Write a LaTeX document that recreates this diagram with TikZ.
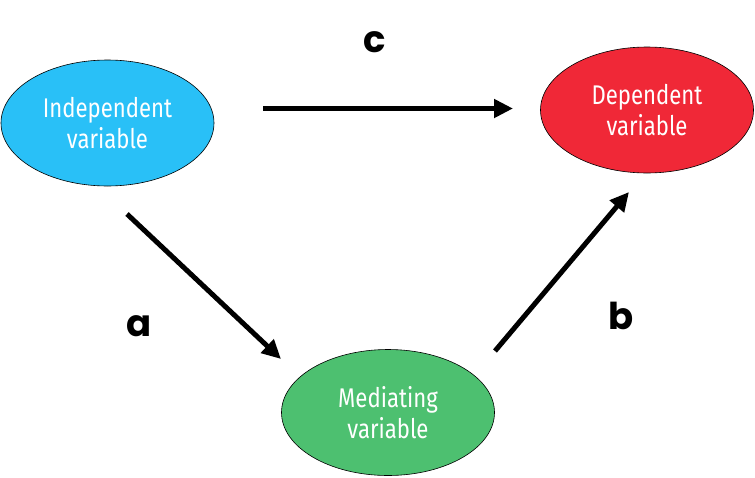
\documentclass[tikz,border=0pt]{standalone}
\usepackage{fontspec}
\usetikzlibrary{shapes.geometric,arrows.meta}
\newfontfamily\varfont{Fira Sans}[FakeStretch=0.82]
\newfontfamily\lblfont{Poppins}[BoldFont={* Bold}]
\definecolor{indblue}{RGB}{41,192,247}
\definecolor{depred}{RGB}{240,40,55}
\definecolor{medgreen}{RGB}{77,192,112}
\tikzset{
  var/.style={ellipse, draw=black, line width=0.6pt, minimum width=213pt, minimum height=126pt,
    inner sep=0pt, align=center, text=white, font=\varfont\fontsize{27}{31}\selectfont},
  conn/.style={line width=5pt, -{Triangle[length=19pt,width=18pt]}},
  lbl/.style={font=\lblfont\bfseries\fontsize{37}{40}\selectfont, inner sep=0pt}
}
\begin{document}
\begin{tikzpicture}[x=1pt,y=-1pt]
\useasboundingbox (0,0) rectangle (755,477);
\node[var, fill=indblue] (ind) at (107.5,123) {Independent\\variable};
\node[var, fill=depred] (dep) at (647,110) {Dependent\\variable};
\node[var, fill=medgreen] (med) at (388,412.5) {Mediating\\variable};
\coordinate (cs) at (263,108.5);
\coordinate (ce) at (513,108.5);
\coordinate (as) at (127,214);
\coordinate (ae) at (281,359);
\coordinate (bs) at (495,351);
\coordinate (be) at (629,192);
\draw[conn] (cs) -- (ce);
\draw[conn] (as) -- (ae);
\draw[conn] (bs) -- (be);
\node[lbl] (lc) at (375,42) {c};
\node[lbl] (la) at (139,326) {a};
\node[lbl] (lb) at (621,316) {b};
\end{tikzpicture}
\end{document}
